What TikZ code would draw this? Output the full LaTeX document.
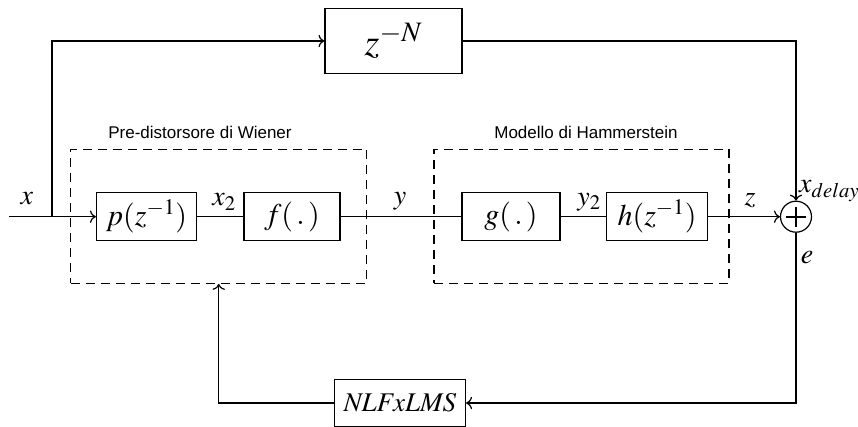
\documentclass[tikz,border=0pt]{standalone}
\usepackage{mathptmx}
\usepackage{fontspec}
\usetikzlibrary{arrows.meta}
\newfontfamily\captionfont{Liberation Sans}
\tikzset{
  >={To[scale=1.4]},
  block/.style={draw, line width=1.2pt, inner sep=0pt, fill=white, font=\fontsize{30}{32}\selectfont},
  frame/.style={draw, line width=1.2pt, dash pattern=on 9pt off 6pt},
  wire/.style={line width=1.2pt},
  signal/.style={font=\fontsize{28}{30}\selectfont},
  caption/.style={font=\captionfont\fontsize{17}{19}\selectfont}
}
\begin{document}
\begin{tikzpicture}[x=1pt,y=-1pt]
  \useasboundingbox (0,0) rectangle (858,427);

  % Dashed frames
  \node[frame, minimum width=296pt, minimum height=134pt] (wiener) at (218.7,216.3) {};
  \node[frame, minimum width=295pt, minimum height=134pt] (hammer) at (581.5,216.3) {};
  \node[caption] (wienertitle) at (200,132) {Pre-distorsore di Wiener};
  \node[caption] (hammertitle) at (586,132) {Modello di Hammerstein};

  % Blocks
  \node[block, minimum width=137pt, minimum height=65pt, font=\fontsize{38}{40}\selectfont] (delay) at (393.5,41) {$z^{-N}$};
  \node[block, minimum width=100pt, minimum height=48pt] (pbox) at (146.5,216.7) {$p(z^{-1})$};
  \node[block, minimum width=96pt, minimum height=48pt] (fbox) at (292,216.7) {$f(\,.\,)$};
  \node[block, minimum width=98pt, minimum height=48pt] (gbox) at (511,216.7) {$g(\,.\,)$};
  \node[block, minimum width=101pt, minimum height=48pt] (hbox) at (657,216.7) {$h(z^{-1})$};
  \node[block, minimum width=131pt, minimum height=47pt, font=\fontsize{27}{29}\selectfont] (nlf) at (400,403) {$\mathit{NLFxLMS}$};

  % Summing junction
  \node[draw, circle, line width=1.2pt, minimum size=31pt, inner sep=0pt] (sum) at (796,216.7) {};
  \draw[line width=2.2pt] ([xshift=-10pt]sum.center) -- ([xshift=10pt]sum.center);
  \draw[line width=2.2pt] ([yshift=-10pt]sum.center) -- ([yshift=10pt]sum.center);

  % Connectors
  \coordinate (in) at (9,216.7);
  \coordinate (split) at (52,216.7);
  \draw[wire,->] (in) -- (pbox);
  \draw[wire,->] (split) |- (delay);
  \draw[wire] (pbox) -- (fbox);
  \draw[wire] (fbox) -- (gbox);
  \draw[wire] (gbox) -- (hbox);
  \draw[wire,->] (hbox) -- (sum);
  \draw[wire,->] (delay) -| (sum);
  \draw[wire,->] (sum) |- (nlf);
  \draw[wire,->] (nlf) -| (wiener.south);

  % Signal labels
  \node[signal] (xlabel) at (27,199) {$x$};
  \node[signal] (x2label) at (224,202) {$x_2$};
  \node[signal] (ylabel) at (400,201) {$y$};
  \node[signal] (y2label) at (589,202) {$y_2$};
  \node[signal] (zlabel) at (750,201) {$z$};
  \node[signal, anchor=west, inner sep=0pt] (xdlabel) at (799,191) {$x_{delay}$};
  \node[signal] (elabel) at (807,258) {$e$};
\end{tikzpicture}
\end{document}
